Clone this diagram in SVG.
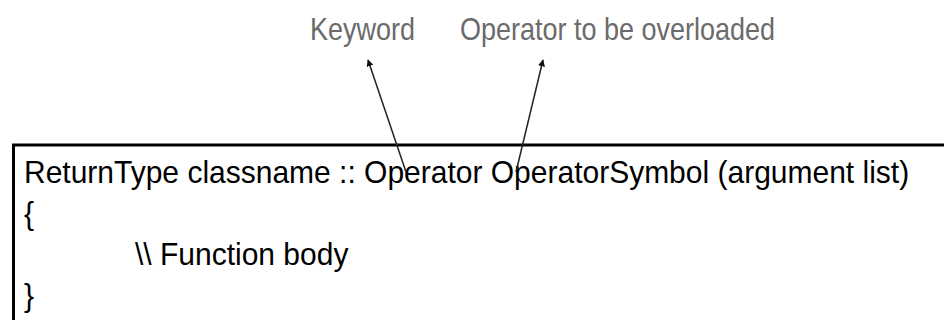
<svg xmlns="http://www.w3.org/2000/svg" width="944" height="320" viewBox="0 0 944 320">
<defs>
<style>
.lbl{font-family:"Liberation Sans",Arial,sans-serif;font-size:27px;fill:#6b6b6b}
.code{font-family:"Liberation Sans",Arial,sans-serif;font-size:30px;fill:#000}
.conn{stroke:#222;stroke-width:1.5;fill:none;marker-end:url(#ah)}
</style>
<marker id="ah" viewBox="0 0 10 10" refX="9" refY="5" markerWidth="7" markerHeight="7" orient="auto" markerUnits="userSpaceOnUse">
<path d="M0,0 L10,5 L0,10 z" fill="#111"/>
</marker>
</defs>
<rect width="944" height="320" fill="#fff"/>
<g id="label-keyword"><text class="lbl" transform="translate(310,40) scale(1,1.15)">Keyword</text></g>
<g id="label-operator"><text class="lbl" transform="translate(460,40) scale(1,1.15)">Operator to be overloaded</text></g>
<g id="code-box">
<path d="M13.5,322 L13.5,145 L946,145" stroke="#000" stroke-width="3" fill="none"/>
<text class="code" transform="translate(24,183) scale(1,1.06)">ReturnType classname :: Operator OperatorSymbol (argument list)</text>
<text class="code" transform="translate(24,224) scale(1,1.06)">{</text>
<text class="code" transform="translate(135,265) scale(1,1.06)">\\ Function body</text>
<text class="code" transform="translate(24,306) scale(1,1.06)">}</text>
</g>
<g id="connectors">
<line class="conn" x1="406" y1="172" x2="368" y2="60"/>
<line class="conn" x1="516" y1="172" x2="543" y2="60"/>
</g>
</svg>
